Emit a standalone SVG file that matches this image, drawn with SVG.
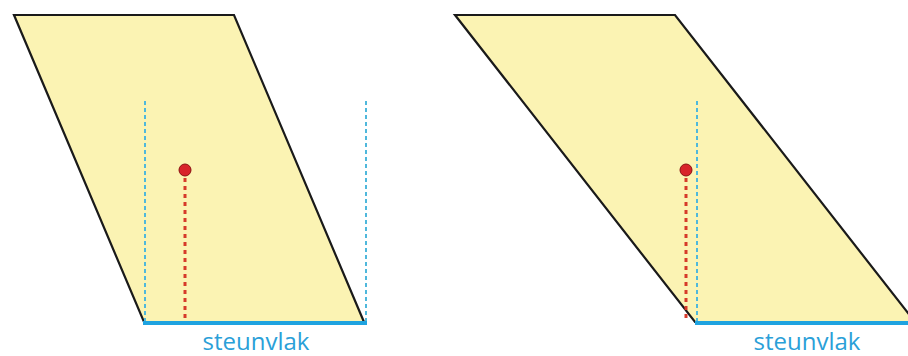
<svg xmlns="http://www.w3.org/2000/svg" width="908" height="356" viewBox="0 0 908 356">
<style>
.body{fill:#fbf3b3;stroke:#1a1a1a;stroke-width:2.2;stroke-linejoin:miter}
.base{stroke:#1fa3e0;stroke-width:4}
.vblue{stroke:#4fb8dc;stroke-width:2;stroke-dasharray:4 3}
.vred{stroke:#d63a2a;stroke-width:3;stroke-dasharray:4 4}
.dot{fill:#d8232a;stroke:#8a1010;stroke-width:1}
.lbl{font-family:"Open Sans","Liberation Sans",sans-serif;font-size:24px;fill:#2aa0d8;text-anchor:middle}
</style>
<rect width="908" height="356" fill="#ffffff"/>
<g id="left">
<polygon class="body" points="14,15 234,15 364,322 144,322"/>
<line class="vblue" x1="145" y1="101" x2="145" y2="321"/>
<line class="vblue" x1="366" y1="101" x2="366" y2="321"/>
<line class="vred" x1="185" y1="178" x2="185" y2="322"/>
<circle class="dot" cx="185" cy="170" r="6"/>
<line class="base" x1="143" y1="323" x2="367" y2="323"/>
<text class="lbl" x="256" y="350">steunvlak</text>
</g>
<g id="right">
<polygon class="body" points="455,15 675,15 915,322 695,322"/>
<line class="vblue" x1="697" y1="101" x2="697" y2="321"/>
<line class="vred" x1="686" y1="178" x2="686" y2="322"/>
<circle class="dot" cx="686" cy="170" r="6"/>
<line class="base" x1="695" y1="323" x2="908" y2="323"/>
<text class="lbl" x="807" y="350">steunvlak</text>
</g>
<g id="connectors"/>
</svg>
